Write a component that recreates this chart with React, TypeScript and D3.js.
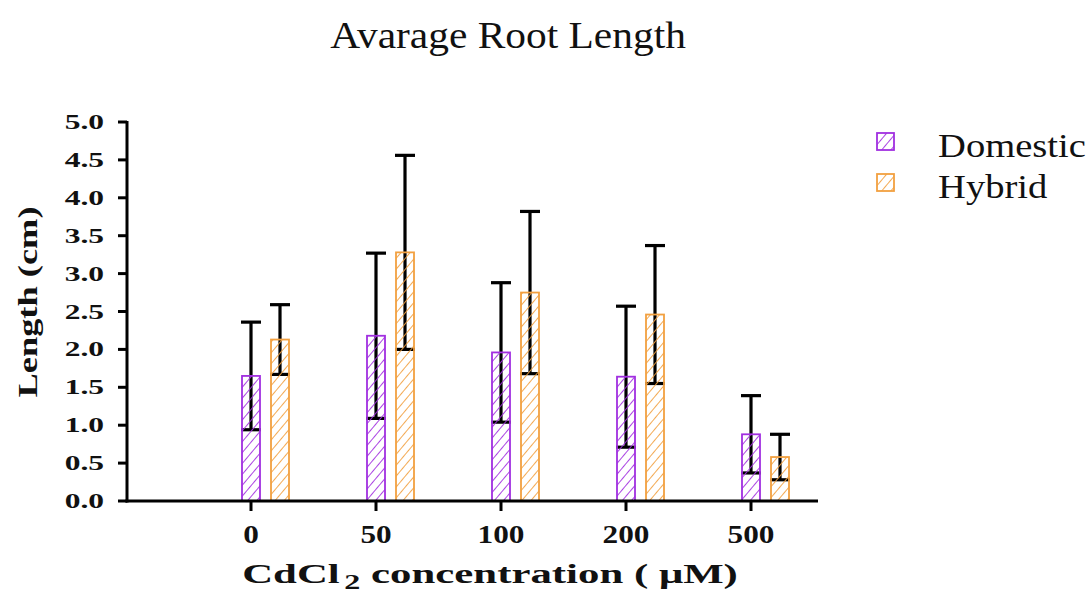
import React from "react";
import * as d3 from "d3";

const categories = ["0", "50", "100", "200", "500"];
const domesticMean = [1.65, 2.18, 1.96, 1.64, 0.88];
const domesticSD = [0.71, 1.09, 0.92, 0.93, 0.51];
const hybridMean = [2.13, 3.28, 2.75, 2.46, 0.58];
const hybridSD = [0.46, 1.28, 1.07, 0.91, 0.3];
const yTicks = [0, 0.5, 1, 1.5, 2, 2.5, 3, 3.5, 4, 4.5, 5];

const seriesNames = ["Domestic", "Hybrid"];
const colors = ["#a12fe0", "#f2a040"];

const W = 1091;
const H = 594;
const FONT = "'Liberation Serif', 'Times New Roman', serif";

const x = d3.scalePoint<string>().domain(categories).range([251, 751]);
const y = d3.scaleLinear().domain([0, 5]).range([501, 122]);
const axisLeft = 127;
const axisRight = 818;
const barW = 18;
const offsets = [0, 29];

const App = () => {
  const series = [
    { name: seriesNames[0], mean: domesticMean, sd: domesticSD, color: colors[0], id: "hatch-dom" },
    { name: seriesNames[1], mean: hybridMean, sd: hybridSD, color: colors[1], id: "hatch-hyb" },
  ];

  return (
    <svg
      width={W}
      height={H}
      style={{ position: "absolute", left: 0, top: 0, background: "#fff" }}
      fontFamily={FONT}
    >
      <defs>
        {series.map((s) => (
          <pattern
            key={s.id}
            id={s.id}
            width={7}
            height={7}
            patternUnits="userSpaceOnUse"
            patternTransform="rotate(40)"
          >
            <line x1={0} y1={0} x2={0} y2={7} stroke={s.color} strokeWidth={1.8} />
          </pattern>
        ))}
      </defs>

      {/* title */}
      <text
        transform={`translate(508,48) scale(1.09,1)`}
        textAnchor="middle"
        fontSize={38}
        fill="#111"
      >
        Avarage Root Length
      </text>

      {/* error bars, drawn under the hatched bars */}
      {series.map((s, si) =>
        categories.map((c, i) => {
          const cx = x(c)! + offsets[si];
          const lo = y(s.mean[i] - s.sd[i]);
          const hi = y(s.mean[i] + s.sd[i]);
          return (
            <g key={`err-${si}-${i}`} stroke="#000" strokeWidth={3.2}>
              <line x1={cx} x2={cx} y1={lo} y2={hi} />
              <line x1={cx - 10} x2={cx + 10} y1={hi} y2={hi} />
              <line x1={cx - 10} x2={cx + 10} y1={lo} y2={lo} />
            </g>
          );
        })
      )}

      {/* bars */}
      {series.map((s, si) =>
        categories.map((c, i) => {
          const cx = x(c)! + offsets[si];
          return (
            <rect
              key={`bar-${si}-${i}`}
              x={cx - barW / 2}
              y={y(s.mean[i])}
              width={barW}
              height={y(0) - y(s.mean[i])}
              fill={`url(#${s.id})`}
              stroke={s.color}
              strokeWidth={1.8}
            />
          );
        })
      )}

      {/* y axis */}
      <line x1={axisLeft} x2={axisLeft} y1={y(5) - 1} y2={y(0) + 1.5} stroke="#000" strokeWidth={3} />
      {yTicks.map((t) => (
        <g key={`yt-${t}`}>
          <line x1={axisLeft - 9} x2={axisLeft} y1={y(t)} y2={y(t)} stroke="#000" strokeWidth={3} />
          <text
            transform={`translate(${axisLeft - 23},${y(t) + 7}) scale(1.5,1)`}
            textAnchor="end"
            fontSize={21}
            fontWeight="bold"
            fill="#111"
          >
            {d3.format(".1f")(t)}
          </text>
        </g>
      ))}

      {/* x axis */}
      <line x1={axisLeft - 1.5} x2={axisRight} y1={y(0)} y2={y(0)} stroke="#000" strokeWidth={3} />
      {categories.map((c) => (
        <g key={`xt-${c}`}>
          <line x1={x(c)} x2={x(c)} y1={y(0)} y2={y(0) + 10} stroke="#000" strokeWidth={3} />
          <text
            transform={`translate(${x(c)},543) scale(1.25,1)`}
            textAnchor="middle"
            fontSize={25}
            fontWeight="bold"
            fill="#111"
          >
            {c}
          </text>
        </g>
      ))}

      {/* axis titles */}
      <text
        transform="translate(490,583) scale(1.53,1)"
        textAnchor="middle"
        fontSize={28}
        fontWeight="bold"
        fill="#111"
      >
        CdCl
        <tspan fontSize={21} dy={6} dx={3}>2</tspan>
        <tspan dy={-6}> concentration ( μM)</tspan>
      </text>
      <text
        transform="translate(37,302) rotate(-90) scale(1.3,1)"
        textAnchor="middle"
        fontSize={28}
        fontWeight="bold"
        fill="#111"
      >
        Length (cm)
      </text>

      {/* legend */}
      {series.map((s, si) => (
        <g key={`lg-${si}`} transform={`translate(877,${133 + si * 41})`}>
          <rect width={17} height={17} fill={`url(#${s.id})`} stroke={s.color} strokeWidth={1.8} />
          <text
            transform="translate(61,24) scale(1.17,1)"
            fontSize={33}
            fill="#111"
          >
            {s.name}
          </text>
        </g>
      ))}
    </svg>
  );
};

export default App;
